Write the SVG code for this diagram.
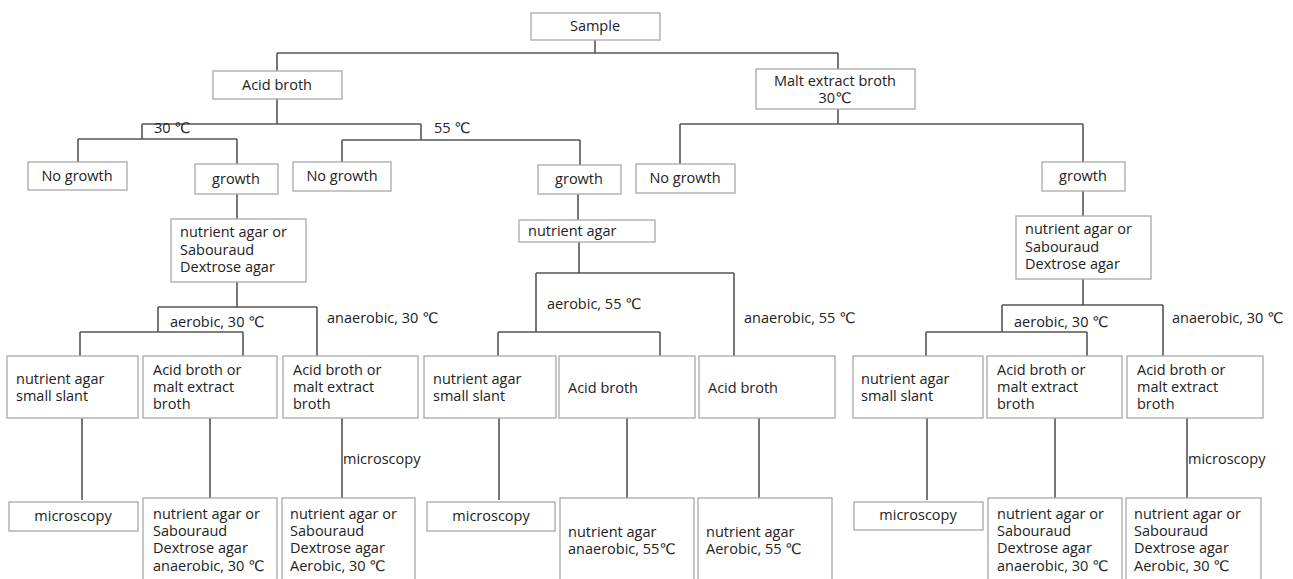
<svg xmlns="http://www.w3.org/2000/svg" width="1293" height="579" viewBox="0 0 1293 579">
<style>
.box{fill:#fff;stroke:#a8a8a8;stroke-width:1.3}
.t{font-family:"Open Sans","DejaVu Sans",sans-serif;font-size:14.5px;fill:#222}
.c{text-anchor:middle}
.ln{stroke:#555;stroke-width:1.6;fill:none}
</style>
<rect width="1293" height="579" fill="#fff"/>
<g id="connectors" class="ln">
<path d="M595,40V53M277,53H838M277,53V71M838,53V69"/>
<path d="M277,99V124M142,124H421M142,124V139M78,139H237M78,139V162M237,139V164M421,124V140M342,140H580M342,140V162M580,140V165"/>
<path d="M838,109V124M680,124H1083M680,124V164M1083,124V162"/>
<path d="M237,194V219M237,282V307M158,307H317M158,307V332M80,332H243M80,332V356M243,332V356M317,307V356"/>
<path d="M578,194V220M579,242V273M536,273H734M536,273V332M498,332H660M498,332V356M660,332V356M734,273V356"/>
<path d="M1083,191V216M1083,279V305M1002,305H1163M1002,305V332M926,332H1087M926,332V356M1087,332V356M1163,305V356"/>
<path d="M82,418V500M210,418V498M342,418V498M499,418V500M627,418V498M759,418V498M927,418V500M1055,418V498M1187,418V498"/>
</g>
<g id="edge-labels" class="t">
<text x="154" y="133">30 ℃</text>
<text x="434" y="133">55 ℃</text>
<text x="170" y="327">aerobic, 30 ℃</text>
<text x="327" y="323">anaerobic, 30 ℃</text>
<text x="547" y="309">aerobic, 55 ℃</text>
<text x="744" y="323">anaerobic, 55 ℃</text>
<text x="1014" y="327">aerobic, 30 ℃</text>
<text x="1172" y="323">anaerobic, 30 ℃</text>
<text x="343" y="464">microscopy</text>
<text x="1188" y="464">microscopy</text>
</g>
<g id="sample"><rect class="box" x="531" y="13" width="129" height="27"/><text class="t c" x="595" y="31">Sample</text></g>
<g id="acid-broth"><rect class="box" x="213" y="71" width="129" height="28"/><text class="t c" x="277" y="90">Acid broth</text></g>
<g id="malt-broth"><rect class="box" x="756" y="69" width="159" height="40"/><text class="t c" x="835" y="86">Malt extract broth</text><text class="t c" x="835" y="103">30℃</text></g>
<g id="no-growth-1"><rect class="box" x="28" y="162" width="99" height="28"/><text class="t c" x="77" y="181">No growth</text></g>
<g id="growth-1"><rect class="box" x="195" y="164" width="83" height="30"/><text class="t c" x="236" y="184">growth</text></g>
<g id="no-growth-2"><rect class="box" x="293" y="162" width="98" height="29"/><text class="t c" x="342" y="181">No growth</text></g>
<g id="growth-2"><rect class="box" x="538" y="165" width="83" height="29"/><text class="t c" x="579" y="184">growth</text></g>
<g id="no-growth-3"><rect class="box" x="636" y="164" width="99" height="29"/><text class="t c" x="685" y="183">No growth</text></g>
<g id="growth-3"><rect class="box" x="1042" y="162" width="83" height="29"/><text class="t c" x="1083" y="181">growth</text></g>
<g id="agar-1"><rect class="box" x="171" y="219" width="135" height="63"/><text class="t" x="180" y="237">nutrient agar or</text><text class="t" x="180" y="255">Sabouraud</text><text class="t" x="180" y="272">Dextrose agar</text></g>
<g id="agar-2"><rect class="box" x="519" y="220" width="136" height="22"/><text class="t" x="528" y="236">nutrient agar</text></g>
<g id="agar-3"><rect class="box" x="1016" y="216" width="135" height="63"/><text class="t" x="1025" y="234">nutrient agar or</text><text class="t" x="1025" y="252">Sabouraud</text><text class="t" x="1025" y="269">Dextrose agar</text></g>
<g id="slant-1"><rect class="box" x="7" y="356" width="131" height="62"/><text class="t" x="16" y="384">nutrient agar</text><text class="t" x="16" y="401">small slant</text></g>
<g id="broth-1a"><rect class="box" x="143" y="356" width="134" height="62"/><text class="t" x="153" y="375">Acid broth or</text><text class="t" x="153" y="392">malt extract</text><text class="t" x="153" y="409">broth</text></g>
<g id="broth-1b"><rect class="box" x="283" y="356" width="135" height="62"/><text class="t" x="293" y="375">Acid broth or</text><text class="t" x="293" y="392">malt extract</text><text class="t" x="293" y="409">broth</text></g>
<g id="slant-2"><rect class="box" x="424" y="356" width="132" height="62"/><text class="t" x="433" y="384">nutrient agar</text><text class="t" x="433" y="401">small slant</text></g>
<g id="broth-2a"><rect class="box" x="559" y="356" width="136" height="62"/><text class="t" x="568" y="393">Acid broth</text></g>
<g id="broth-2b"><rect class="box" x="699" y="356" width="136" height="62"/><text class="t" x="708" y="393">Acid broth</text></g>
<g id="slant-3"><rect class="box" x="853" y="356" width="130" height="62"/><text class="t" x="861" y="384">nutrient agar</text><text class="t" x="861" y="401">small slant</text></g>
<g id="broth-3a"><rect class="box" x="987" y="356" width="135" height="62"/><text class="t" x="997" y="375">Acid broth or</text><text class="t" x="997" y="392">malt extract</text><text class="t" x="997" y="409">broth</text></g>
<g id="broth-3b"><rect class="box" x="1127" y="356" width="136" height="62"/><text class="t" x="1137" y="375">Acid broth or</text><text class="t" x="1137" y="392">malt extract</text><text class="t" x="1137" y="409">broth</text></g>
<g id="micro-1"><rect class="box" x="9" y="502" width="129" height="29"/><text class="t c" x="73" y="521">microscopy</text></g>
<g id="result-1a"><rect class="box" x="143" y="498" width="134" height="100"/><text class="t" x="153" y="519">nutrient agar or</text><text class="t" x="153" y="536">Sabouraud</text><text class="t" x="153" y="553">Dextrose agar</text><text class="t" x="153" y="571">anaerobic, 30 ℃</text></g>
<g id="result-1b"><rect class="box" x="282" y="498" width="133" height="100"/><text class="t" x="290" y="519">nutrient agar or</text><text class="t" x="290" y="536">Sabouraud</text><text class="t" x="290" y="553">Dextrose agar</text><text class="t" x="290" y="571">Aerobic, 30 ℃</text></g>
<g id="micro-2"><rect class="box" x="427" y="502" width="128" height="29"/><text class="t c" x="491" y="521">microscopy</text></g>
<g id="result-2a"><rect class="box" x="560" y="498" width="134" height="100"/><text class="t" x="568" y="537">nutrient agar</text><text class="t" x="568" y="554">anaerobic, 55℃</text></g>
<g id="result-2b"><rect class="box" x="698" y="498" width="134" height="100"/><text class="t" x="706" y="537">nutrient agar</text><text class="t" x="706" y="554">Aerobic, 55 ℃</text></g>
<g id="micro-3"><rect class="box" x="854" y="502" width="129" height="28"/><text class="t c" x="918" y="520">microscopy</text></g>
<g id="result-3a"><rect class="box" x="988" y="498" width="134" height="100"/><text class="t" x="997" y="519">nutrient agar or</text><text class="t" x="997" y="536">Sabouraud</text><text class="t" x="997" y="553">Dextrose agar</text><text class="t" x="997" y="571">anaerobic, 30 ℃</text></g>
<g id="result-3b"><rect class="box" x="1126" y="498" width="135" height="100"/><text class="t" x="1134" y="519">nutrient agar or</text><text class="t" x="1134" y="536">Sabouraud</text><text class="t" x="1134" y="553">Dextrose agar</text><text class="t" x="1134" y="571">Aerobic, 30 ℃</text></g>
</svg>
